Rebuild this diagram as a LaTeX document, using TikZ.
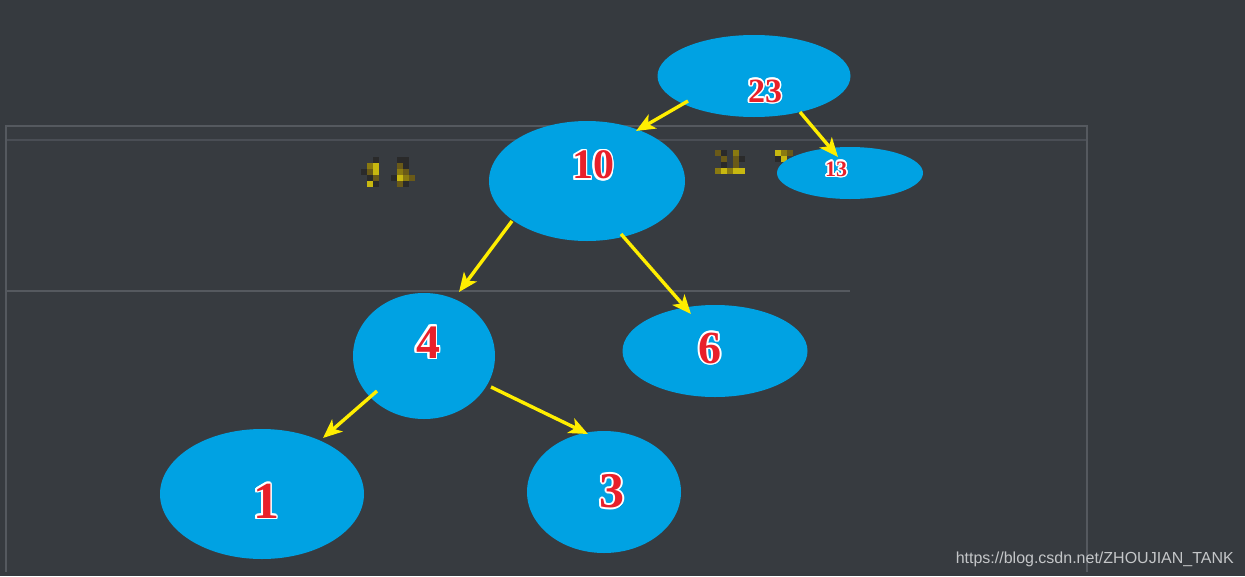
\documentclass[tikz,border=0pt]{standalone}
\usepackage{fontspec}
\setmainfont{Liberation Serif}
\newfontfamily\wmfont{Liberation Sans}
\usepackage{contour}
\contourlength{1.6pt}
\contournumber{16}
\usetikzlibrary{shapes.geometric,arrows.meta,calc}
\definecolor{bgc}{HTML}{363A3F}
\definecolor{panelc}{HTML}{373B40}
\definecolor{edgec}{HTML}{55595F}
\definecolor{linec}{HTML}{4A4E55}
\definecolor{nodeblue}{HTML}{00A2E3}
\definecolor{numred}{HTML}{E8202A}
\definecolor{arrowy}{HTML}{FFEE00}
\definecolor{wmc}{HTML}{C4C6C8}
\definecolor{ya}{HTML}{C8B810}
\definecolor{yb}{HTML}{8A7A10}
\definecolor{yc}{HTML}{6A5A18}
\definecolor{yd}{HTML}{2A2A2A}
\tikzset{
  tnode/.style={ellipse, fill=nodeblue, draw=none, inner sep=0pt},
  num/.style={font=\bfseries, text=numred, inner sep=0pt},
  link/.style={draw=arrowy, line width=3.4pt, -{Stealth[length=19pt,width=16pt,inset=5pt]}},
  px/.style={inner sep=0pt, minimum size=6pt, draw=none}
}
\newcommand{\numtxt}[2]{\fontsize{#1}{#1}\selectfont\contour{white}{#2}}
\begin{document}
\begin{tikzpicture}[x=1pt,y=-1pt]
\useasboundingbox (0,0) rectangle (1245,576);
\fill[bgc] (0,0) rectangle (1245,576);
% panel
\fill[panelc] (6,126) rectangle (1087,572);
\draw[edgec, line width=2.2pt] (6,572) -- (6,126) -- (1087,126) -- (1087,572);
\draw[linec, line width=2pt] (7,140) -- (1086,140);
\draw[edgec, line width=2pt] (7,291) -- (850,291);
% mosaic blobs
\foreach \x/\y/\c in {373/157/yd,367/163/yb,373/163/ya,361/169/yd,367/169/yc,373/169/ya,367/175/yd,373/175/yc,367/181/ya,373/181/yd,
  397/157/yd,403/157/yd,397/163/yc,403/163/yd,397/169/yb,403/169/yc,391/175/yd,397/175/ya,403/175/yb,409/175/yc,397/181/yc,403/181/yd,
  715/150/yc,721/150/yd,733/150/yb,721/156/yc,733/156/yc,739/156/yd,721/162/yd,733/162/yc,715/168/yb,721/168/ya,727/168/yb,733/168/ya,739/168/ya,
  775/150/ya,781/150/yb,775/156/yd,781/156/ya,787/150/yc}
  \node[px, fill=\c, anchor=north west] at (\x,\y) {};
% tree nodes
\node[tnode, minimum width=193pt, minimum height=82pt] (n23) at (754,76) {};
\node[tnode, minimum width=146pt, minimum height=52pt] (n13) at (850,173) {};
\node[tnode, minimum width=196pt, minimum height=120pt] (n10) at (587,181) {};
\node[tnode, minimum width=142pt, minimum height=126pt] (n4) at (424,356) {};
\node[tnode, minimum width=185pt, minimum height=92pt] (n6) at (715,351) {};
\node[tnode, minimum width=204pt, minimum height=130pt] (n1) at (262,494) {};
\node[tnode, minimum width=154pt, minimum height=122pt] (n3) at (604,492) {};
% labels
\node[num] (l23) at ($(n23)+(11,16)$) {\numtxt{34}{23}};
\node[num] (l13) at ($(n13)+(-14,-3)$) {\numtxt{22}{13}};
\node[num] (l10) at ($(n10)+(6,-15)$) {\numtxt{42}{10}};
\node[num] (l4) at ($(n4)+(4,-13)$) {\numtxt{48}{4}};
\node[num] (l6) at ($(n6)+(-5,-2)$) {\numtxt{46}{6}};
\node[num] (l1) at ($(n1)+(4,8)$) {\numtxt{52}{1}};
\node[num] (l3) at ($(n3)+(8,0)$) {\numtxt{50}{3}};
% connectors
\draw[link] ($(n23)+(-66,25)$) -- ($(n10)+(49,-50)$);
\draw[link] ($(n23)+(46,36)$) -- ($(n13)+(-12,-16)$);
\draw[link] ($(n10)+(-75,40)$) -- ($(n4)+(35,-64)$);
\draw[link] ($(n10)+(34,53)$) -- ($(n6)+(-24,-37)$);
\draw[link] ($(n4)+(-47,35)$) -- ($(n1)+(61,-56)$);
\draw[link] ($(n4)+(67,31)$) -- ($(n3)+(-16,-58)$);
% watermark
\node[anchor=base east, font=\wmfont\fontsize{16}{16}\selectfont, text=wmc, inner sep=0pt] (wm) at (1234,563) {https://blog.csdn.net/ZHOUJIAN\_TANK};
\end{tikzpicture}
\end{document}
